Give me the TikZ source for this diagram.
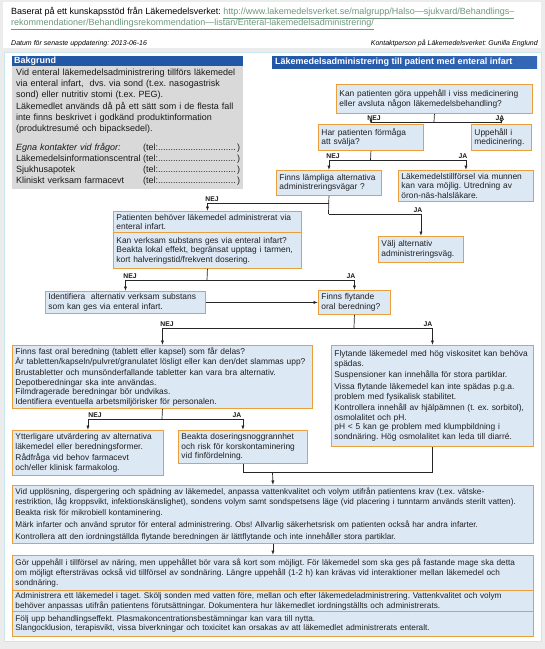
\documentclass[tikz,border=0pt]{standalone}
\usepackage{fontspec}
\setmainfont{Liberation Sans}
\usetikzlibrary{arrows.meta}
\definecolor{pagebg}{RGB}{236,236,236}
\definecolor{panelborder}{RGB}{200,232,238}
\definecolor{boxfill}{RGB}{221,232,245}
\definecolor{boxborder}{RGB}{233,160,60}
\definecolor{hdrblue}{RGB}{34,86,166}
\definecolor{hdrblue2}{RGB}{52,104,182}
\definecolor{graybox}{RGB}{217,217,217}
\definecolor{linkc}{RGB}{110,150,125}
\newcommand\teldots{\hbox to 97pt{(tel:\leaders\hbox{.}\hfill)}}
\frenchspacing
\hyphenpenalty=10000
\begin{document}
\frenchspacing
\hyphenpenalty=10000
\begin{tikzpicture}[x=1pt,y=-1pt,
  box/.style={draw=boxborder, fill=boxfill, line width=0.9pt, anchor=north west,
    inner xsep=3pt, inner ysep=2pt, align=left, text=black!88,
    font=\fontsize{8.4}{9.6}\selectfont},
  widebox/.style={box, font=\fontsize{8.2}{9.6}\selectfont},
  conn/.style={draw=black!85, line width=0.7pt},
  arr/.style={conn, -{Latex[length=4.5pt,width=3.2pt]}},
  lab/.style={font=\bfseries\fontsize{6.8}{7}\selectfont, inner sep=0.5pt, anchor=south, text=black!90},
  hdr/.style={anchor=west, text=white, font=\bfseries\fontsize{9}{10}\selectfont,
    inner sep=0pt}]
\useasboundingbox (0,0) rectangle (545,649);
\fill[pagebg] (0,0) rectangle (545,649);
% top panel
\fill[white] (3,2) rectangle (541,48);
\node[anchor=west, inner sep=0, font=\fontsize{9}{10}\selectfont] (h1) at (11,13)
  {Baserat på ett kunskapsstöd från Läkemedelsverket: \textcolor{linkc}{\underline{http://www.lakemedelsverket.se/malgrupp/Halso—sjukvard/Behandlings–}}};
\node[anchor=west, inner sep=0, font=\fontsize{9}{10}\selectfont] (h2) at (11,24.5)
  {\textcolor{linkc}{\underline{rekommendationer/Behandlingsrekommendation—listan/Enteral-lakemedelsadministrering/}}};
\node[anchor=west, inner sep=0, font=\itshape\fontsize{7}{8}\selectfont] (dat) at (11,43.5) {Datum för senaste uppdatering: 2013-06-16};
\node[anchor=east, inner sep=0, font=\itshape\fontsize{7}{8}\selectfont] (kon) at (538,43.5) {Kontaktperson på Läkemedelsverket: Gunilla Englund};
% main panel
\filldraw[fill=white, draw=panelborder, line width=0.8pt] (4,52) rectangle (541,641);
% Bakgrund
\fill[hdrblue] (12,55.5) rectangle (243,66);
\node[hdr] (bh) at (14,61) {Bakgrund};
\fill[graybox] (12,66) rectangle (243,189);
\node[anchor=north west, inner sep=0, text width=228pt, align=left, text=black!90,
  font=\fontsize{9}{11.1}\selectfont] (bgt) at (16,69)
  {Vid enteral läkemedelsadministrering tillförs läkemedel\\
   via enteral infart,\ \ dvs. via sond (t.ex. nasogastrisk\\
   sond) eller nutritiv stomi (t.ex. PEG).\\
   Läkemedlet används då på ett sätt som i de flesta fall\\
   inte finns beskrivet i godkänd produktinformation\\
   (produktresumé och bipacksedel).\\[8pt]
   \makebox[127pt][l]{\textit{Egna kontakter vid frågor:}}\teldots\\
   \makebox[127pt][l]{Läkemedelsinformationscentral}\teldots\\
   \makebox[127pt][l]{Sjukhusapotek}\teldots\\
   \makebox[127pt][l]{Kliniskt verksam farmacevt}\teldots};
% right header
\shade[left color=hdrblue, right color=hdrblue2] (272,56) rectangle (537,68);
\node[hdr] (rh) at (275,62) {Läkemedelsadministrering till patient med enteral infart};
% boxes
\node[box, text width=190pt, minimum height=29pt] (b1) at (336,84)
  {Kan patienten göra uppehåll i viss medicinering\\ eller avsluta någon läkemedelsbehandling?};
\node[box, text width=99pt, minimum height=26pt] (b2) at (318,124)
  {Har patienten förmåga\\ att svälja?};
\node[box, text width=54pt, minimum height=26pt] (b3) at (471,124)
  {Uppehåll i\\ medicinering.};
\node[box, text width=99pt, minimum height=25pt] (b4) at (276,170)
  {Finns lämpliga alternativa\\ administreringsvägar ?};
\node[box, text width=129pt, minimum height=31pt] (b5) at (398,170)
  {Läkemedelstillförsel via munnen\\ kan vara möjlig. Utredning av\\ öron-näs-halsläkare.};
\node[box, text width=182pt, minimum height=21pt] (b6a) at (113,211)
  {Patienten behöver läkemedel administrerat via\\ enteral infart.};
\node[box, text width=182pt, minimum height=36pt] (b6b) at (113,232)
  {Kan verksam substans ges via enteral infart?\\ Beakta lokal effekt, begränsat upptag i tarmen,\\ kort halveringstid/frekvent dosering.};
\node[box, text width=79pt, minimum height=26pt] (b7) at (378,236)
  {Välj alternativ\\ administreringsväg.};
\node[box, text width=154pt, minimum height=22pt] (b8) at (45,291)
  {Identifiera\ \ alternativ verksam substans\\ som kan ges via enteral infart.};
\node[box, text width=66pt, minimum height=24pt] (b9) at (318,290)
  {Finns flytande\\ oral beredning?};
\node[box, text width=294pt, minimum height=63pt] (b10) at (12,345)
  {Finns fast oral beredning (tablett eller kapsel) som får delas?\\
   Är tabletten/kapseln/pulvret/granulatet lösligt eller kan den/det slammas upp?\\[2pt]
   Brustabletter och munsönderfallande tabletter kan vara bra alternativ.\\
   Depotberedningar ska inte användas.\\
   Filmdragerade beredningar bör undvikas.\\
   Identifiera eventuella arbetsmiljörisker för personalen.};
\node[box, text width=196pt, minimum height=101pt] (b11) at (331,345)
  {Flytande läkemedel med hög viskositet kan behöva\\ spädas.\\[2pt]
   Suspensioner kan innehålla för stora partiklar.\\[2pt]
   Vissa flytande läkemedel kan inte spädas p.g.a.\\ problem med fysikalisk stabilitet.\\[2pt]
   Kontrollera innehåll av hjälpämnen (t. ex. sorbitol),\\ osmolalitet och pH.\\
   pH < 5 kan ge problem med klumpbildning i\\ sondnäring. Hög osmolalitet kan leda till diarré.};
\node[box, text width=145pt, minimum height=45pt] (b12) at (12,430)
  {Ytterligare utvärdering av alternativa\\ läkemedel eller beredningsformer.\\[2pt]
   Rådfråga vid behov farmacevt\\ och/eller klinisk farmakolog.};
\node[box, text width=123pt, minimum height=33pt] (b13) at (178,430)
  {Beakta doseringsnoggrannhet\\ och risk för korskontaminering\\ vid finfördelning.};
\node[widebox, text width=515pt, minimum height=58pt] (b14) at (12,485)
  {Vid upplösning, dispergering och spädning av läkemedel, anpassa vattenkvalitet och volym utifrån patientens krav (t.ex. vätske-\\
   restriktion, låg kroppsvikt, infektionskänslighet), sondens volym samt sondspetsens läge (vid placering i tunntarm används sterilt vatten).\\[2pt]
   Beakta risk för mikrobiell kontaminering.\\[2pt]
   Märk infarter och använd sprutor för enteral administrering. Obs! Allvarlig säkerhetsrisk om patienten också har andra infarter.\\[2pt]
   Kontrollera att den iordningställda flytande beredningen är lättflytande och inte innehåller stora partiklar.};
\node[widebox, text width=515pt, minimum height=35pt] (b15a) at (12,555)
  {Gör uppehåll i tillförsel av näring, men uppehållet bör vara så kort som möjligt. För läkemedel som ska ges på fastande mage ska detta\\
   om möjligt eftersträvas också vid tillförsel av sondnäring. Längre uppehåll (1-2 h) kan krävas vid interaktioner mellan läkemedel och\\
   sondnäring.};
\node[widebox, text width=515pt, minimum height=21pt] (b15b) at (12,590)
  {Administrera ett läkemedel i taget. Skölj sonden med vatten före, mellan och efter läkemedeladministrering. Vattenkvalitet och volym\\
   behöver anpassas utifrån patientens förutsättningar. Dokumentera hur läkemedlet iordningställts och administrerats.};
\node[widebox, text width=515pt, minimum height=25pt] (b15c) at (12,611)
  {Följ upp behandlingseffekt. Plasmakoncentrationsbestämningar kan vara till nytta.\\
   Slangocklusion, terapisvikt, vissa biverkningar och toxicitet kan orsakas av att läkemedlet administrerats enteralt.};
% connectors
\coordinate (j1) at (434,122);
\draw[conn] (b1.south) -- (j1);
\draw[arr] (j1) -| (b2.north);
\draw[arr] (j1) -| (b3.north);
\node[lab] (l1) at (374,121) {NEJ};
\node[lab] (l2) at (500,121) {JA};
\coordinate (j2) at (370.5,160);
\draw[conn] (b2.south) -- (j2);
\draw[arr] (j2) -| (b4.north);
\draw[arr] (j2) -| (b5.north);
\node[lab] (l3) at (333,159) {NEJ};
\node[lab] (l4) at (463,159) {JA};
\coordinate (j3) at (328.5,203);
\coordinate (j4) at (328.5,214);
\draw[conn] (b4.south) -- (j4);
\draw[arr] (j3) -| (b6a.north);
\draw[arr] (j4) -| (b7.north);
\node[lab] (l5) at (212,202) {NEJ};
\node[lab] (l6) at (418,213) {JA};
\coordinate (j5) at (207,280);
\draw[conn] (b6b.south) -- (j5);
\draw[arr] (j5) -| (b8.north);
\draw[arr] (j5) -| (b9.north);
\node[lab] (l7) at (130,279) {NEJ};
\node[lab] (l8) at (351,279) {JA};
\draw[arr] (b8.east) -- (b9.west);
\coordinate (j6) at (354,328);
\draw[conn] (b9.south) -- (j6);
\draw[arr] (j6) -| (b10.north);
\draw[arr] (j6) -| (b11.north);
\node[lab] (l9) at (167,327) {NEJ};
\node[lab] (l10) at (428,327) {JA};
\coordinate (j7) at (162,419);
\draw[conn] (b10.south) -- (j7);
\draw[arr] (j7) -| (b12.north);
\draw[arr] (j7) -| (b13.north);
\node[lab] (l11) at (95,418) {NEJ};
\node[lab] (l12) at (237,418) {JA};
\coordinate (j9) at (272.5,472);
\draw[conn] (b13.south) |- (j9);
\draw[conn] (b11.south) |- (j9);
\draw[arr] (j9) -- (b14.north);
\draw[arr] (b14.south) -- (b15a.north);
\end{tikzpicture}
\end{document}
